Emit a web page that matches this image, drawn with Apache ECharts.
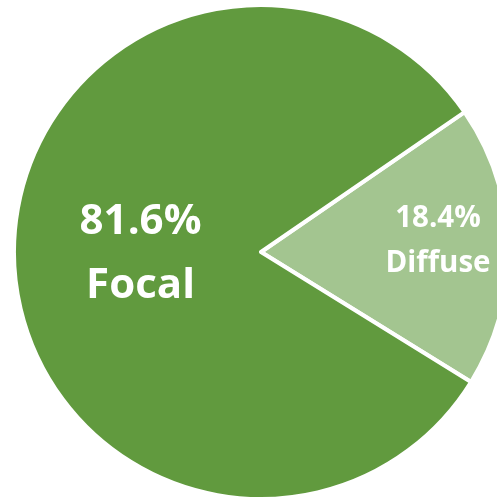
<!DOCTYPE html>
<html>
<head>
<meta charset="utf-8">
<script src="https://cdn.jsdelivr.net/npm/echarts@6/dist/echarts.min.js"></script>
<style>
  html, body { margin: 0; padding: 0; background: #ffffff; }
  #chart { width: 497px; height: 499px; }
</style>
</head>
<body>
<div id="chart"></div>
<script>
// Share of lesion types
const categories = ['Diffuse', 'Focal'];
const shares = [18.4, 81.6];
const sliceColors = ['#A3C590', '#619A3E'];

const chart = echarts.init(document.getElementById('chart'), null, { renderer: 'canvas' });

const labelSizes = { Diffuse: 29.5, Focal: 42 };
const labelLines = { Diffuse: 45, Focal: 64 };
const labelShift = { Diffuse: [50.5, -8], Focal: [6, -1.5] };

chart.setOption({
  animation: false,
  backgroundColor: '#ffffff',
  series: [{
    type: 'pie',
    center: [261, 252],
    radius: [0, 247],
    startAngle: 34.5,
    clockwise: true,
    avoidLabelOverlap: false,
    itemStyle: { borderColor: '#ffffff', borderWidth: 4 },
    label: {
      show: true,
      position: 'inside',
      color: '#ffffff',
      fontFamily: 'Open Sans',
      fontWeight: 'bold',
      formatter: p => p.value.toFixed(1) + '%\n' + p.name
    },
    labelLine: { show: false },
    labelLayout: p => ({ dx: labelShift[categories[p.dataIndex]][0], dy: labelShift[categories[p.dataIndex]][1] }),
    emphasis: { disabled: true },
    data: categories.map((c, i) => ({
      name: c,
      value: shares[i],
      itemStyle: { color: sliceColors[i] },
      label: { fontSize: labelSizes[c], lineHeight: labelLines[c] }
    }))
  }]
});
</script>
</body>
</html>
